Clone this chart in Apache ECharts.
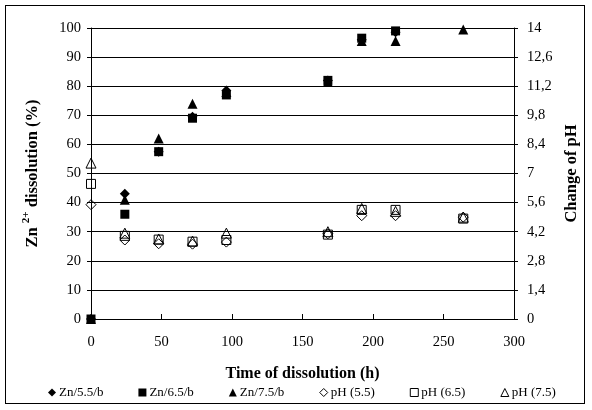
<!DOCTYPE html>
<html><head><meta charset="utf-8">
<script src="https://cdn.jsdelivr.net/npm/echarts@6/dist/echarts.min.js"></script>
<style>html,body{margin:0;padding:0;background:#fff}#c{width:592px;height:410px;position:relative}
#frame{position:absolute;left:5px;top:5px;width:580px;height:399px;border:1px solid #000;box-sizing:border-box;pointer-events:none}</style>
</head><body><div id="c"></div><div id="frame"></div>
<script>
const time = [0, 24, 48, 72, 96, 168, 192, 216, 264];
const zn55 = [0, 43, 57.5, 69.5, 78.5, 82, 96, 98.5, null];
const zn65 = [0, 36, 57.5, 69, 77, 82, 96.5, 99, null];
const zn75 = [0, 41, 62, 74, 78, 81.5, 95.5, 95.5, 99.5];
const ph55 = [5.5, 3.8, 3.62, 3.6, 3.7, 4.1, 4.97, 4.97, 4.9];
const ph65 = [6.5, 4.0, 3.82, 3.72, 3.8, 4.06, 5.25, 5.25, 4.83];
const ph75 = [7.5, 4.13, 3.85, 3.75, 4.13, 4.2, 5.32, 5.18, 4.9];
const names = ['Zn/5.5/b', 'Zn/6.5/b', 'Zn/7.5/b', 'pH (5.5)', 'pH (6.5)', 'pH (7.5)'];

const FONT = 'Liberation Serif';
function pts(vals){ return time.map((t,i)=>[t, vals[i]]).filter(p=>p[1]!==null); }
function filled(name, vals, sym, size){
  return {name, type:'scatter', yAxisIndex:0, symbol:sym, symbolSize:size, data:pts(vals),
    itemStyle:{color:'#000', opacity:1}};
}
function open(name, vals, sym, size){
  return {name, type:'scatter', yAxisIndex:1, symbol:sym, symbolSize:size, data:pts(vals),
    itemStyle:{color:'rgba(255,255,255,0)', borderColor:'#000', borderWidth:1, opacity:1}};
}
const chart = echarts.init(document.getElementById('c'));
chart.setOption({
  animation:false,
  textStyle:{fontFamily:FONT, color:'#000'},
  grid:{left:91, right:78, top:28, bottom:91, containLabel:false},
  legend:{bottom:6, left:43, itemGap:35, itemWidth:8, itemHeight:8,
    itemStyle:{borderWidth:1},
    textStyle:{fontFamily:FONT, fontSize:13, color:'#000', padding:[0,0,0,-2]}, data:names},
  xAxis:{type:'value', min:0, max:300, interval:50,
    axisLine:{lineStyle:{color:'#000'}}, axisTick:{inside:true, length:5, lineStyle:{color:'#000'}},
    axisLabel:{fontFamily:FONT, fontSize:14.5, color:'#000', margin:16},
    splitLine:{show:false},
    name:'Time of dissolution (h)', nameLocation:'middle', nameGap:47,
    nameTextStyle:{fontFamily:FONT, fontSize:16, fontWeight:'bold', color:'#000'}},
  yAxis:[
    {type:'value', min:0, max:100, interval:10,
     axisLine:{show:true, lineStyle:{color:'#000'}}, axisTick:{show:true, length:4, lineStyle:{color:'#000'}},
     axisLabel:{fontFamily:FONT, fontSize:14.5, color:'#000', margin:10},
     splitLine:{lineStyle:{color:'#000', width:1}},
     name:'{b|Zn }{s|2+}{b| dissolution (%)}', nameLocation:'middle', nameGap:50,
     nameTextStyle:{rich:{
       b:{fontFamily:FONT, fontSize:16.5, fontWeight:'bold', color:'#000', verticalAlign:'bottom', lineHeight:20},
       s:{fontFamily:FONT, fontSize:11, fontWeight:'bold', color:'#000', verticalAlign:'top', lineHeight:20, padding:[0,0,9,0]}}}},
    {type:'value', min:0, max:14, interval:1.4, position:'right',
     axisLine:{show:true, lineStyle:{color:'#000'}}, axisTick:{show:true, length:4, lineStyle:{color:'#000'}},
     axisLabel:{fontFamily:FONT, fontSize:14.5, color:'#000', margin:13,
       formatter:v=>String(Math.round(v*10)/10).replace('.', ',')},
     splitLine:{show:false},
     name:'Change of pH', nameLocation:'middle', nameGap:40, nameRotate:90,
     nameTextStyle:{fontFamily:FONT, fontSize:16.5, fontWeight:'bold', color:'#000'}}
  ],
  series:[
    open(names[3], ph55, 'diamond', 10),
    open(names[4], ph65, 'rect', 9),
    open(names[5], ph75, 'triangle', 10),
    filled(names[0], zn55, 'diamond', 10),
    filled(names[1], zn65, 'rect', 9),
    filled(names[2], zn75, 'triangle', 10)
  ]
});
</script></body></html>
